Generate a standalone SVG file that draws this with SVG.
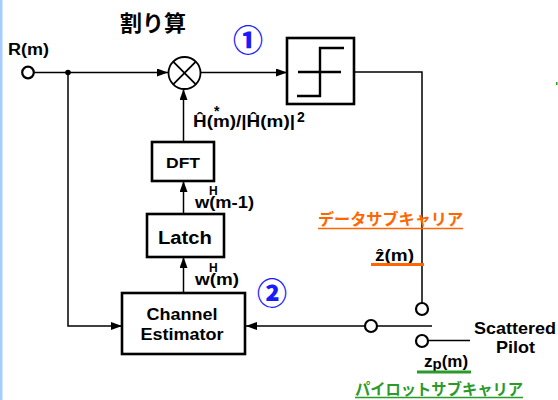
<svg xmlns="http://www.w3.org/2000/svg" width="558" height="400" viewBox="0 0 558 400">
<defs>
<marker id="ar" markerUnits="userSpaceOnUse" markerWidth="11" markerHeight="8" refX="11" refY="4" orient="auto">
<path d="M0,0 L11,4 L0,8 z" fill="#000"/>
</marker>
<style>
.t{font-family:"Liberation Sans",Arial,"DejaVu Sans",sans-serif;font-weight:bold;fill:#000}
.j{font-family:"Noto Sans CJK JP",sans-serif;font-weight:bold}
.box{fill:#fff;stroke:#000;stroke-width:2.6}
.ln{fill:none;stroke:#000;stroke-width:1.5}
.cw{fill:#fff;stroke:#000;stroke-width:2.2}
.blue{font-family:"Noto Sans CJK JP",sans-serif;font-weight:900;fill:#1a1aff;font-size:30px}
</style>
</defs>
<rect x="0" y="0" width="558" height="400" fill="#fff"/>
<rect x="0" y="0" width="2.5" height="400" fill="#a8ccff"/>
<rect x="556" y="82" width="1.5" height="3" fill="#2a9a2a"/>

<g id="connectors">
<line class="ln" x1="34" y1="72.5" x2="168" y2="72.5" marker-end="url(#ar)"/>
<line class="ln" x1="201" y1="72.5" x2="287" y2="72.5" marker-end="url(#ar)"/>
<polyline class="ln" points="354,72 422,72 422,303"/>
<polyline class="ln" points="68,72.5 68,326 122,326" marker-end="url(#ar)"/>
<line class="ln" x1="432" y1="326" x2="246" y2="326" marker-end="url(#ar)"/>
<line class="ln" x1="428" y1="340.5" x2="470" y2="340.5"/>
<line class="ln" x1="183.5" y1="293" x2="183.5" y2="257" marker-end="url(#ar)"/>
<line class="ln" x1="183.5" y1="214" x2="183.5" y2="181" marker-end="url(#ar)"/>
<line class="ln" x1="183.5" y1="142" x2="183.5" y2="89" marker-end="url(#ar)"/>
<circle cx="68" cy="72.5" r="2.8" fill="#000"/>
</g>

<g id="input">
<circle class="cw" cx="28" cy="72.5" r="5.8"/>
<text class="t" x="8" y="55" font-size="16" textLength="41" lengthAdjust="spacingAndGlyphs">R(m)</text>
</g>

<g id="multiplier">
<circle cx="184.5" cy="73" r="16" fill="#fff" stroke="#000" stroke-width="1.8"/>
<path d="M173.2,61.7 L195.8,84.3 M195.8,61.7 L173.2,84.3" stroke="#000" stroke-width="1.8"/>
<text class="j" x="120" y="31" font-size="22" fill="#000">割り算</text>
</g>

<g id="decision">
<rect class="box" x="287" y="38" width="67" height="66"/>
<path d="M298,72 L341,72 M297,96 L320,96 L320,48 L344,48" fill="none" stroke="#000" stroke-width="2.4"/>
</g>

<g id="dft">
<rect class="box" x="152" y="142" width="62" height="39"/>
<text class="t" x="183" y="168" font-size="15" text-anchor="middle" textLength="34" lengthAdjust="spacingAndGlyphs">DFT</text>
</g>

<g id="latch">
<rect class="box" x="147" y="214" width="77" height="43"/>
<text class="t" x="185" y="244" font-size="18" text-anchor="middle" textLength="54" lengthAdjust="spacingAndGlyphs">Latch</text>
</g>

<g id="estimator">
<rect class="box" x="122" y="293" width="123" height="61"/>
<text class="t" x="182" y="320" font-size="16.5" text-anchor="middle" textLength="71" lengthAdjust="spacingAndGlyphs">Channel</text>
<text class="t" x="182" y="340" font-size="16.5" text-anchor="middle" textLength="83" lengthAdjust="spacingAndGlyphs">Estimator</text>
</g>

<g id="switch">
<circle class="cw" cx="371" cy="326" r="6"/>
<circle class="cw" cx="422" cy="309" r="6"/>
<circle class="cw" cx="422" cy="341" r="6"/>
</g>

<g id="labels">
<text class="t" x="193" y="127" font-size="17" textLength="102" lengthAdjust="spacingAndGlyphs">Ĥ(m)/|Ĥ(m)|</text>
<text class="t" x="214" y="116" font-size="14">*</text>
<text class="t" x="297" y="122" font-size="14">2</text>
<text class="t" x="195" y="208" font-size="16" textLength="59" lengthAdjust="spacingAndGlyphs">w(m-1)</text>
<text class="t" x="209" y="195" font-size="12">H</text>
<text class="t" x="195" y="285" font-size="16" textLength="44" lengthAdjust="spacingAndGlyphs">w(m)</text>
<text class="t" x="209" y="272" font-size="12">H</text>
<text class="blue" x="233" y="51">①</text>
<text class="blue" x="257" y="304">②</text>

<text class="j" x="318" y="225" font-size="16" fill="#ff6600" textLength="145" lengthAdjust="spacingAndGlyphs">データサブキャリア</text>
<line x1="318" y1="228.5" x2="463" y2="228.5" stroke="#ff6600" stroke-width="1.5"/>
<text class="t" x="375" y="261" font-size="16" textLength="39" lengthAdjust="spacingAndGlyphs">ẑ(m)</text>
<line x1="371" y1="264.5" x2="424" y2="264.5" stroke="#ff6600" stroke-width="3"/>

<text class="t" x="474" y="334" font-size="16.5" textLength="82" lengthAdjust="spacingAndGlyphs">Scattered</text>
<text class="t" x="496" y="353" font-size="16.5" textLength="39" lengthAdjust="spacingAndGlyphs">Pilot</text>

<text class="t" x="424" y="367" font-size="17">z<tspan font-size="15" dy="2">p</tspan><tspan dy="-2">(m)</tspan></text>
<line x1="417" y1="372" x2="471" y2="372" stroke="#2a9a2a" stroke-width="3"/>
<text class="j" x="355" y="395" font-size="15.5" fill="#2a9a2a" textLength="168" lengthAdjust="spacingAndGlyphs">パイロットサブキャリア</text>
<line x1="355" y1="397.5" x2="523" y2="397.5" stroke="#2a9a2a" stroke-width="1.5"/>
</g>
</svg>
